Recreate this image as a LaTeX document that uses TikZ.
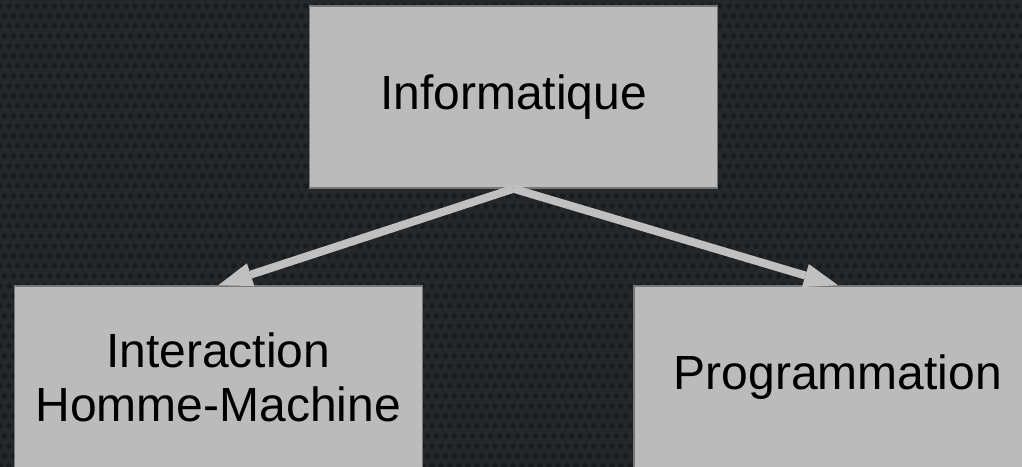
\documentclass[tikz,border=0pt]{standalone}
\usepackage{fontspec}
\setmainfont{Liberation Sans}
\usetikzlibrary{arrows.meta}
\definecolor{box-gray}{RGB}{187, 187, 187}
\definecolor{box-edge}{RGB}{118, 118, 118}
\definecolor{arrow-gray}{RGB}{192, 192, 192}
\definecolor{bg-dark}{RGB}{36, 40, 43}
\definecolor{bg-dot}{RGB}{25, 28, 31}

\begin{document}
\begin{tikzpicture}[x=1pt, y=1pt,
    topic/.style={fill=box-gray, draw=box-edge, line width=1.5pt,
        minimum width=408pt, minimum height=182pt, inner sep=0pt,
        align=center, font=\fontsize{48}{54}\selectfont},
    link/.style={draw=arrow-gray, line width=8pt,
        -{Triangle[length=34pt, width=24pt, line width=0pt]}}]
\useasboundingbox (0,0) rectangle (1022,466);
% background texture
\fill[bg-dark] (-10,-10) rectangle (1032,476);
\foreach \r in {0,...,47}{
    \foreach \c in {0,...,114}{
        \fill[bg-dot] ({\c*9+mod(\r,2)*4.5},{\r*10}) circle (2.8pt);
    }
}
\node[topic] (info) at (513.5,369) {Informatique};
\node[topic] (ihm) at (218.3,89) {Interaction\\Homme-Machine};
\node[topic] (prog) at (838,89) {Programmation};
\draw[link] (info.south) -- (ihm.north);
\draw[link] (info.south) -- (prog.north);
\end{tikzpicture}
\end{document}
